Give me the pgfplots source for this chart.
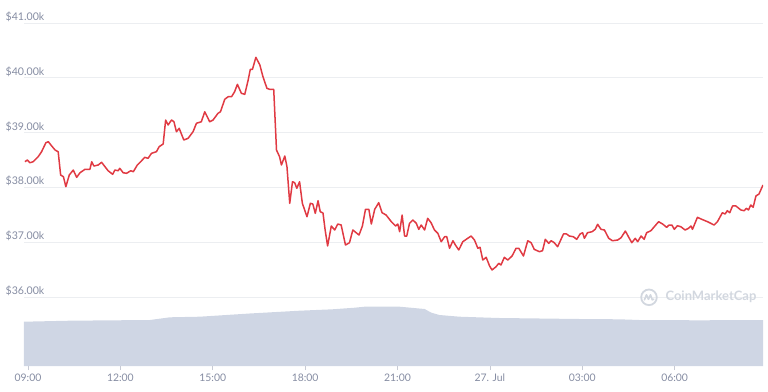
\documentclass[border=0pt]{standalone}
\usepackage{fontspec}
\setmainfont{Lato}
\usepackage{pgfplots}
\pgfplotsset{compat=1.18}
\usepackage{pgfplotstable}
\definecolor{cmcred}{HTML}{E03A43}
\definecolor{volfill}{HTML}{CFD6E4}
\definecolor{gridc}{HTML}{ECEEF1}
\definecolor{labc}{HTML}{858CA2}
\definecolor{wm}{HTML}{D2D7DF}

\pgfplotstableread{
h p
-0.10 38470
-0.02 38500
0.06 38450
0.17 38470
0.33 38560
0.44 38650
0.58 38815
0.66 38834
0.77 38756
0.88 38682
0.98 38651
1.06 38226
1.15 38195
1.23 38013
1.34 38226
1.47 38317
1.58 38184
1.69 38268
1.85 38330
2.01 38330
2.07 38469
2.14 38390
2.28 38409
2.39 38458
2.50 38378
2.60 38305
2.75 38239
2.82 38317
2.93 38305
2.98 38349
3.09 38268
3.20 38257
3.34 38305
3.42 38286
3.55 38409
3.69 38487
3.79 38549
3.90 38531
4.01 38622
4.17 38651
4.26 38743
4.39 38792
4.47 39230
4.55 39139
4.66 39230
4.74 39199
4.82 39016
4.91 39078
5.06 38865
5.20 38896
5.36 39016
5.47 39170
5.63 39199
5.74 39381
5.90 39199
6.01 39230
6.17 39352
6.25 39381
6.39 39608
6.50 39655
6.61 39655
6.71 39746
6.80 39881
6.93 39717
7.04 39699
7.15 39960
7.22 40155
7.29 40155
7.40 40374
7.53 40234
7.63 40020
7.76 39808
7.85 39790
7.98 39790
8.07 38683
8.17 38560
8.23 38409
8.34 38573
8.41 38378
8.50 37710
8.59 38104
8.66 38086
8.73 37984
8.82 38104
8.91 37710
9.06 37465
9.17 37710
9.25 37697
9.33 37527
9.42 37757
9.49 37557
9.58 37533
9.65 37223
9.73 36931
9.85 37296
9.96 37223
10.06 37332
10.17 37314
10.31 36949
10.44 36991
10.55 37223
10.75 37131
10.86 37296
10.96 37600
11.07 37600
11.15 37332
11.26 37600
11.39 37721
11.50 37538
11.63 37496
11.80 37374
11.94 37296
12.01 37332
12.07 37192
12.15 37496
12.23 37113
12.30 37113
12.39 37345
12.50 37405
12.61 37345
12.69 37235
12.77 37314
12.88 37223
12.98 37436
13.09 37356
13.20 37223
13.31 37162
13.42 37009
13.53 37100
13.60 37100
13.69 36889
13.80 37027
13.88 36949
13.99 36858
14.12 37009
14.28 37071
14.39 37113
14.50 37040
14.61 36889
14.68 36907
14.77 36675
14.88 36724
14.99 36566
15.07 36493
15.20 36553
15.29 36615
15.36 36584
15.47 36724
15.58 36675
15.72 36748
15.85 36889
15.94 36889
16.09 36748
16.23 37027
16.34 36991
16.44 36870
16.61 36827
16.71 36845
16.80 37053
16.91 36980
16.99 37027
17.09 36991
17.20 36918
17.39 37150
17.49 37150
17.58 37113
17.71 37100
17.82 37053
17.93 37150
18.01 37173
18.07 37071
18.17 37173
18.32 37192
18.42 37235
18.50 37327
18.61 37235
18.72 37223
18.86 37071
18.98 37027
19.15 37040
19.26 37082
19.40 37204
19.50 37100
19.61 36991
19.72 37071
19.80 37009
19.91 37113
20.01 37053
20.09 37173
20.23 37210
20.34 37283
20.48 37374
20.61 37332
20.74 37272
20.82 37314
20.91 37314
20.99 37235
21.09 37301
21.20 37283
21.34 37223
21.45 37254
21.53 37296
21.58 37235
21.74 37454
21.88 37418
22.07 37374
22.28 37314
22.39 37374
22.55 37538
22.64 37515
22.71 37575
22.79 37538
22.88 37661
22.99 37661
23.15 37588
23.26 37575
23.33 37619
23.40 37588
23.47 37679
23.55 37637
23.64 37843
23.74 37880
23.87 38044
}\pricedata

\pgfplotstableread{
h v
-0.13 44.3
1.36 45.3
3.96 46.0
4.61 48.7
5.58 49.3
7.20 52.5
8.82 55.3
9.89 56.7
10.61 58.3
10.93 59.3
12.07 59.3
12.88 57.0
13.10 53.3
13.36 51.0
14.01 49.3
14.98 48.3
15.31 48.0
17.90 47.0
19.20 46.7
19.85 46.0
21.80 45.7
23.87 46.0
}\voldata

\begin{document}
\begin{tikzpicture}
\pgfplotsset{
  common/.style={
    width=739pt, height=366pt, scale only axis,
    xmin=-0.13, xmax=23.87,
  }
}
% volume
\begin{axis}[common, ymin=0, ymax=366, hide axis]
\addplot[fill=volfill, draw=none] table[x=h, y=v] {\voldata} \closedcycle;
\end{axis}
% price
\begin{axis}[common,
  ymin=34741, ymax=41420,
  axis line style={draw=none},
  ytick={36000,37000,38000,39000,40000,41000},
  yticklabels={\$36.00k,\$37.00k,\$38.00k,\$39.00k,\$40.00k,\$41.00k},
  ymajorgrids, grid style={draw=gridc, line width=0.8pt},
  ytick style={draw=none},
  ytick pos=left,
  yticklabel style={anchor=base west, inner sep=0.5pt, xshift=-19pt, yshift=2.5pt, text=labc, font=\fontsize{10.6}{12}\selectfont},
  xtick={0,3,6,9,12,15,18,21},
  xticklabels={09:00,12:00,15:00,18:00,21:00,27. Jul,03:00,06:00},
  xtick pos=bottom, xtick align=outside,
  major tick length=4pt,
  xtick style={draw=labc!45, line width=0.6pt},
  xticklabel style={text=labc, font=\fontsize{10.4}{12}\selectfont},
]
\addplot[cmcred, line width=1.5pt, line join=round] table[x=h, y=p] {\pricedata};
\draw[wm, line width=1.8pt] (axis description cs:0.8457,0.1877) circle (7.8pt);
\draw[wm, line width=1.6pt, line join=round, line cap=round]
  ([xshift=-4.5pt,yshift=-2.5pt]axis description cs:0.8457,0.1877)
  -- ++(2pt,5pt) -- ++(2pt,-4.5pt) -- ++(2pt,4.5pt) -- ++(1.8pt,-5pt) -- ++(1.5pt,0.6pt);
\node[wm, font=\fontsize{13}{15}\selectfont\bfseries, anchor=center] at (axis description cs:0.9296,0.1885) {CoinMarketCap};
\end{axis}
\pgfresetboundingbox
\path[use as bounding box] ([xshift=-24pt,yshift=-25pt]current axis.south west) rectangle ([xshift=5pt]current axis.north east);
\end{tikzpicture}
\end{document}
